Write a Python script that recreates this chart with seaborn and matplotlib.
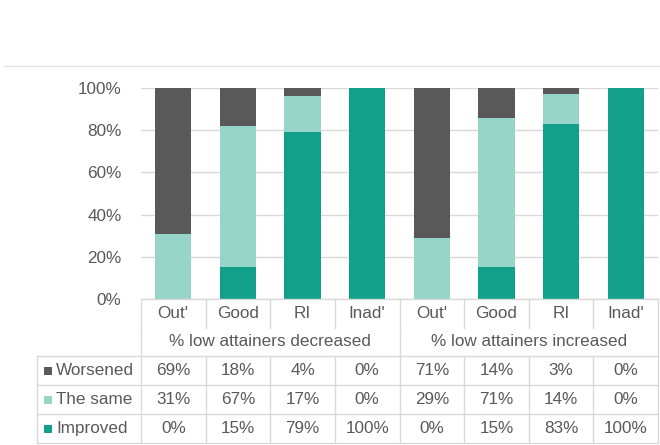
import matplotlib
matplotlib.use("Agg")
import matplotlib.pyplot as plt
from matplotlib.lines import Line2D
from matplotlib.patches import Rectangle
import seaborn as sns
import pandas as pd
import numpy as np

categories = ["Out'", "Good", "RI", "Inad'", "Out'", "Good", "RI", "Inad'"]
groups = ["% low attainers decreased", "% low attainers increased"]
worsened = [69, 18, 4, 0, 71, 14, 3, 0]
same = [31, 67, 17, 0, 29, 71, 14, 0]
improved = [0, 15, 79, 100, 0, 15, 83, 100]
series_names = ["Worsened", "The same", "Improved"]
colors = {"Worsened": "#595959", "The same": "#97D5C9", "Improved": "#12A08A"}

sns.set_theme(style="white")
plt.rcParams['font.family'] = ['Liberation Sans', 'DejaVu Sans']
TXT = "#595959"
GRID = "#D9D9D9"
FS = 12.3

W, H = 660, 445
fig = plt.figure(figsize=(W / 100, H / 100), dpi=100)

def fx(x):
    return x / W

def fy(y):
    return 1 - y / H

L, R, T, B = 141, 658, 88, 299
ax = fig.add_axes([fx(L), fy(B), fx(R) - fx(L), fy(T) - fy(B)])

pos = [str(i) for i in range(len(categories))]
df = pd.DataFrame({
    "pos": pos,
    "top": np.array(worsened) + np.array(same) + np.array(improved),
    "mid": np.array(same) + np.array(improved),
    "low": np.array(improved),
})
for col, name in [("top", "Worsened"), ("mid", "The same"), ("low", "Improved")]:
    sns.barplot(data=df, x="pos", y=col, order=pos, color=colors[name],
                width=0.56, saturation=1, ax=ax, linewidth=0, zorder=3)

ax.set_ylim(0, 100)
ax.set_xlim(-0.5, len(categories) - 0.5)
ax.set_yticks(range(0, 101, 20))
ax.set_yticklabels([f"{v}%" for v in range(0, 101, 20)], color=TXT, fontsize=FS)
ax.tick_params(axis='y', length=0, pad=14)
ax.set_xticks([])
ax.set_xlabel("")
ax.set_ylabel("")
ax.yaxis.grid(True, color=GRID, linewidth=1, zorder=0)
ax.set_axisbelow(True)
for s in ax.spines.values():
    s.set_visible(False)

def hline(x0, x1, y, color=GRID):
    fig.add_artist(Line2D([fx(x0), fx(x1)], [fy(y), fy(y)], color=color, lw=1))

def vline(x, y0, y1, color=GRID):
    fig.add_artist(Line2D([fx(x), fx(x)], [fy(y0), fy(y1)], color=color, lw=1))

# top line of chart
hline(4, 660, 66, "#E3E3E3")

n = len(categories)
cw = (R - L) / n
bounds = [L + cw * i for i in range(n + 1)]
cat_y0, cat_y1 = B, 328
grp_y1 = 356
row_edges = [356, 385, 414, 443]
TL = 37

# category row
hline(L, R, B)
for b in bounds:
    vline(b, cat_y0, cat_y1)
for i, c in enumerate(categories):
    fig.text(fx(bounds[i] + cw / 2), fy((cat_y0 + cat_y1) / 2), c, ha='center',
             va='center', color=TXT, fontsize=FS)
# group row
for b in [L, bounds[4], R]:
    vline(b, cat_y1, grp_y1)
for g, gi in enumerate(groups):
    xc = (bounds[g * 4] + bounds[g * 4 + 4]) / 2
    fig.text(fx(xc), fy((cat_y1 + grp_y1) / 2), gi, ha='center', va='center',
             color=TXT, fontsize=FS)

# data rows
for y in row_edges:
    hline(TL, R, y)
for b in [TL] + bounds:
    vline(b, row_edges[0], row_edges[-1])

rows = [worsened, same, improved]
for r, (name, vals) in enumerate(zip(series_names, rows)):
    yc = (row_edges[r] + row_edges[r + 1]) / 2
    fig.add_artist(Rectangle((fx(44), fy(yc + 4)), fx(8), 8 / H,
                             color=colors[name], lw=0))
    fig.text(fx(56), fy(yc), name, ha='left', va='center', color=TXT, fontsize=FS)
    for i, v in enumerate(vals):
        fig.text(fx(bounds[i] + cw / 2), fy(yc), f"{v}%", ha='center', va='center',
                 color=TXT, fontsize=FS)

fig.savefig("out.png", dpi=100)
